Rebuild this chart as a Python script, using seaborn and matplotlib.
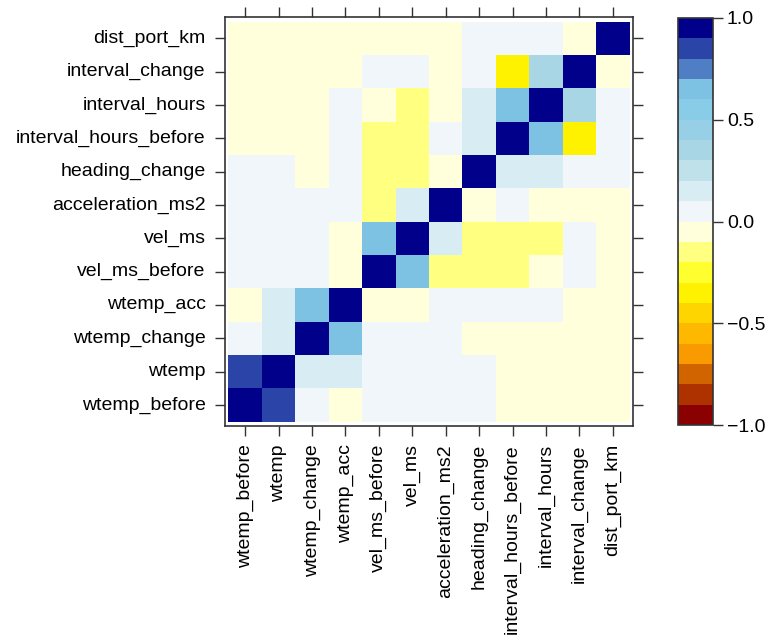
import numpy as np
import pandas as pd
import seaborn as sns
import matplotlib
matplotlib.use("Agg")
import matplotlib.pyplot as plt
import matplotlib.colors as mcolors

sns.set_style("white")
plt.rcParams['font.family'] = ['Liberation Sans', 'DejaVu Sans']

# variable order, bottom -> top on the y axis and left -> right on the x axis
variables = ["wtemp_before", "wtemp", "wtemp_change", "wtemp_acc",
             "vel_ms_before", "vel_ms", "acceleration_ms2", "heading_change",
             "interval_hours_before", "interval_hours", "interval_change",
             "dist_port_km"]

# correlation values (row i, column j in the order above)
wtemp_before          = [1.00, 0.85, 0.05, -0.05, 0.05, 0.05, 0.05, 0.05, -0.05, -0.05, -0.05, -0.05]
wtemp                 = [0.85, 1.00, 0.15, 0.15, 0.05, 0.05, 0.05, 0.05, -0.05, -0.05, -0.05, -0.05]
wtemp_change          = [0.05, 0.15, 1.00, 0.65, 0.05, 0.05, 0.05, -0.05, -0.05, -0.05, -0.05, -0.05]
wtemp_acc             = [-0.05, 0.15, 0.65, 1.00, -0.05, -0.05, 0.05, 0.05, 0.05, 0.05, -0.05, -0.05]
vel_ms_before         = [0.05, 0.05, 0.05, -0.05, 1.00, 0.65, -0.15, -0.15, -0.15, -0.05, 0.05, -0.05]
vel_ms                = [0.05, 0.05, 0.05, -0.05, 0.65, 1.00, 0.15, -0.15, -0.15, -0.15, 0.05, -0.05]
acceleration_ms2      = [0.05, 0.05, 0.05, 0.05, -0.15, 0.15, 1.00, -0.05, 0.05, -0.05, -0.05, -0.05]
heading_change        = [0.05, 0.05, -0.05, 0.05, -0.15, -0.15, -0.05, 1.00, 0.15, 0.15, 0.05, 0.05]
interval_hours_before = [-0.05, -0.05, -0.05, 0.05, -0.15, -0.15, 0.05, 0.15, 1.00, 0.65, -0.35, 0.05]
interval_hours        = [-0.05, -0.05, -0.05, 0.05, -0.05, -0.15, -0.05, 0.15, 0.65, 1.00, 0.35, 0.05]
interval_change       = [-0.05, -0.05, -0.05, -0.05, 0.05, 0.05, -0.05, 0.05, -0.35, 0.35, 1.00, -0.05]
dist_port_km          = [-0.05, -0.05, -0.05, -0.05, -0.05, -0.05, -0.05, 0.05, 0.05, 0.05, -0.05, 1.00]

rows = [wtemp_before, wtemp, wtemp_change, wtemp_acc, vel_ms_before, vel_ms,
        acceleration_ms2, heading_change, interval_hours_before, interval_hours,
        interval_change, dist_port_km]

corr = pd.DataFrame(rows, index=variables, columns=variables)
# heatmap draws first row on top, so flip rows
corr = corr.iloc[::-1]

level_colors = ["#8B0000", "#AD3200", "#D26400", "#F99A00", "#FFB800",
                "#FFD500", "#FFF200", "#FFFF30", "#FFFF80", "#FFFFDC",
                "#F0F6FA", "#D8ECF3", "#BEE1EA", "#A8D6E4", "#96CFE6",
                "#88CCE8", "#7EC2E3", "#4F7EC4", "#2A44A8", "#00008B"]
bounds = np.linspace(-1, 1, 21)
cmap = mcolors.ListedColormap(level_colors)
norm = mcolors.BoundaryNorm(bounds, cmap.N)

fig = plt.figure(figsize=(7.68, 6.43), dpi=100)
ax = fig.add_axes([225 / 768, 1 - 426 / 643, 408 / 768, 409 / 643])
cax = fig.add_axes([678 / 768, 1 - 425 / 643, 35 / 768, 407 / 643])

sns.heatmap(corr, cmap=cmap, norm=norm, ax=ax, cbar=False, square=False,
            linewidths=0)
ax.set_xlim(-0.1, 12.1)
ax.set_ylim(12.13, -0.14)
ax.set_xlabel("")
ax.set_ylabel("")

for sp in ax.spines.values():
    sp.set_visible(True)
    sp.set_color("#333333")
    sp.set_linewidth(1.2)

ax.tick_params(axis="both", which="both", direction="out", length=7, width=1,
               color="#333333", labelcolor="black", labelsize=14,
               top=True, right=True, bottom=True, left=True,
               labeltop=False, labelright=False)
ax.tick_params(axis="y", pad=7)
ax.tick_params(axis="x", pad=6)
ax.set_xticks(np.arange(12) + 0.5)
ax.set_xticklabels(variables, rotation=90)
ax.set_yticks(np.arange(12) + 0.5)
ax.set_yticklabels(corr.index, rotation=0)

sm = plt.cm.ScalarMappable(cmap=cmap, norm=norm)
cb = fig.colorbar(sm, cax=cax, boundaries=bounds, ticks=[-1, -0.5, 0, 0.5, 1])
cb.ax.minorticks_off()
cb.ax.set_yticklabels(["\u22121.0", "\u22120.5", "0.0", "0.5", "1.0"])
cb.ax.tick_params(labelsize=14, length=7, width=1, color="#333333",
                  labelcolor="black", direction="out", pad=3)
cb.outline.set_edgecolor("#333333")
cb.outline.set_linewidth(1.2)

fig.savefig("out.png", dpi=100)
